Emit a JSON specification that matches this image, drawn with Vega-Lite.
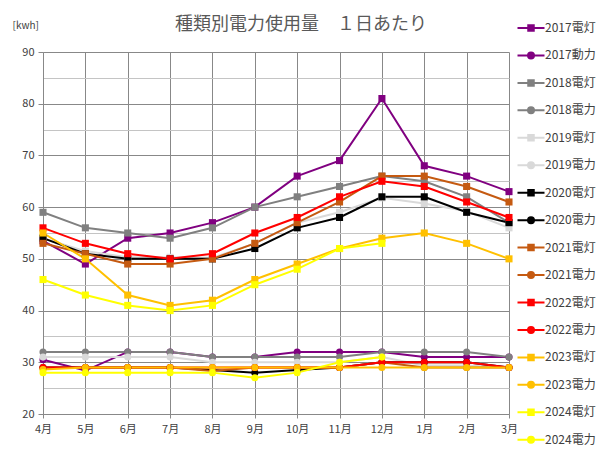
{
  "$schema": "https://vega.github.io/schema/vega-lite/v6.json",
  "width": 466,
  "height": 362,
  "autosize": {"type": "none"},
  "padding": {"left": 43, "top": 52, "right": 96, "bottom": 40},
  "background": "white",
  "config": {"view": {"stroke": null}, "font": "Noto Sans CJK JP"},
  "title": {"text": "種類別電力使用量　１日あたり", "fontSize": 18, "fontWeight": "normal", "color": "#595959", "anchor": "middle", "dx": 25, "offset": 0, "dy": 14, "font": "Noto Sans CJK JP"},
  "data": {"values": [
    {"s":"2017電灯","k":"灯","4月":53.5,"5月":49,"6月":54,"7月":55,"8月":57,"9月":60,"10月":66,"11月":69,"12月":81,"1月":68,"2月":66,"3月":63},
    {"s":"2017動力","k":"力","4月":30.5,"5月":28.4,"6月":32,"7月":32,"8月":31,"9月":31,"10月":32,"11月":32,"12月":32,"1月":31,"2月":31,"3月":31},
    {"s":"2018電灯","k":"灯","4月":59,"5月":56,"6月":55,"7月":54,"8月":56,"9月":60,"10月":62,"11月":64,"12月":66,"1月":65,"2月":62,"3月":57},
    {"s":"2018電力","k":"力","4月":32,"5月":32,"6月":32,"7月":32,"8月":31,"9月":31,"10月":31,"11月":31,"12月":32,"1月":32,"2月":32,"3月":31},
    {"s":"2019電灯","k":"灯","4月":54,"5月":51.5,"6月":50.3,"7月":50.3,"8月":50.2,"9月":53,"10月":57,"11月":59,"12月":61.8,"1月":60.7,"2月":59.2,"3月":56},
    {"s":"2019電力","k":"力","4月":31,"5月":31,"6月":31,"7月":31,"8月":30,"9月":30,"10月":30,"11月":30,"12月":31,"1月":29.4,"2月":29.4,"3月":29},
    {"s":"2020電灯","k":"灯","4月":54,"5月":51,"6月":50,"7月":50,"8月":50,"9月":52,"10月":56,"11月":58,"12月":62,"1月":62,"2月":59,"3月":57},
    {"s":"2020電力","k":"力","4月":29,"5月":29,"6月":29,"7月":29,"8月":28.5,"9月":28,"10月":28.5,"11月":29,"12月":30,"1月":30,"2月":30,"3月":29},
    {"s":"2021電灯","k":"灯","4月":53,"5月":51,"6月":49,"7月":49,"8月":50,"9月":53,"10月":57,"11月":61,"12月":66,"1月":66,"2月":64,"3月":61},
    {"s":"2021電力","k":"力","4月":29,"5月":29,"6月":29,"7月":29,"8月":28.3,"9月":29,"10月":29,"11月":29,"12月":30,"1月":29,"2月":29,"3月":29},
    {"s":"2022電灯","k":"灯","4月":56,"5月":53,"6月":51,"7月":50,"8月":51,"9月":55,"10月":58,"11月":62,"12月":65,"1月":64,"2月":61,"3月":58},
    {"s":"2022電力","k":"力","4月":29,"5月":29,"6月":29,"7月":29,"8月":29,"9月":29,"10月":29,"11月":29,"12月":30,"1月":30,"2月":30,"3月":29},
    {"s":"2023電灯","k":"灯","4月":55,"5月":50,"6月":43,"7月":41,"8月":42,"9月":46,"10月":49,"11月":52,"12月":54,"1月":55,"2月":53,"3月":50},
    {"s":"2023電力","k":"力","4月":28.6,"5月":29,"6月":29,"7月":29,"8月":29,"9月":29,"10月":29,"11月":29,"12月":29,"1月":29,"2月":29,"3月":29},
    {"s":"2024電灯","k":"灯","4月":46,"5月":43,"6月":41,"7月":40,"8月":41,"9月":45,"10月":48,"11月":52,"12月":53,"1月":null,"2月":null,"3月":null},
    {"s":"2024電力","k":"力","4月":28,"5月":28,"6月":28,"7月":28,"8月":28,"9月":27,"10月":28,"11月":30,"12月":31,"1月":null,"2月":null,"3月":null}
  ]},
  "transform": [
    {"fold": ["4月","5月","6月","7月","8月","9月","10月","11月","12月","1月","2月","3月"], "as": ["m", "v"]},
    {"filter": "datum.v != null"}
  ],
  "encoding": {
    "x": {"field": "m", "type": "ordinal",
      "sort": ["4月","5月","6月","7月","8月","9月","10月","11月","12月","1月","2月","3月"],
      "scale": {"type": "point", "padding": 0},
      "axis": {"title": null, "labelAngle": 0, "labelFontSize": 11, "labelColor": "#404040", "labelPadding": 5,
        "domainColor": "#888888", "tickColor": "#888888", "tickSize": 4, "grid": true, "gridColor": "#888888", "gridWidth": 1}},
    "y": {"field": "v", "type": "quantitative",
      "scale": {"domain": [20, 90], "nice": false, "zero": false},
      "axis": {"values": [20,25,30,35,40,45,50,55,60,65,70,75,80,85,90],
        "labelExpr": "datum.value % 10 === 0 ? datum.label : ''",
        "labelFontSize": 11, "labelColor": "#404040", "labelPadding": 4,
        "domainColor": "#888888", "tickSize": 5,
        "tickColor": {"condition": {"test": "datum.value % 10 === 0", "value": "#888888"}, "value": "rgba(0,0,0,0)"},
        "gridColor": {"condition": {"test": "datum.value % 10 === 0", "value": "#888888"}, "value": "#c4c4c4"},
        "title": "[kwh]", "titleAngle": 0, "titleX": -31, "titleY": -27, "titleAlign": "left", "titleBaseline": "middle",
        "titleFontSize": 10, "titleFontWeight": "normal", "titleColor": "#404040"}},
    "color": {"field": "s", "type": "nominal",
      "scale": {"domain": ["2017電灯","2017動力","2018電灯","2018電力","2019電灯","2019電力","2020電灯","2020電力","2021電灯","2021電力","2022電灯","2022電力","2023電灯","2023電力","2024電灯","2024電力"],
        "range": ["#800080","#800080","#808080","#808080","#D9D9D9","#D9D9D9","#000000","#000000","#C55A11","#C55A11","#FF0000","#FF0000","#FFC000","#FFC000","#FFFF00","#FFFF00"]},
      "legend": {"title": null, "orient": "none", "legendX": 482, "legendY": -30, "labelFontSize": 12, "labelColor": "#404040",
        "labelOffset": 8, "rowPadding": 13.45, "symbolSize": 100, "symbolStrokeWidth": 2,
        "encode": {"symbols": {"update": {
          "shape": {"signal": "indexof(datum.value, '灯') >= 0 ? 'M-2.7,0H2.7M-0.55,-0.55H0.55V0.55H-0.55Z' : 'M-2.7,0H2.7M0.6,0A0.6,0.6,0,1,1,-0.6,0A0.6,0.6,0,1,1,0.6,0Z'"},
          "fill": {"scale": "color", "field": "value"},
          "stroke": {"scale": "color", "field": "value"},
          "strokeWidth": {"value": 2},
          "opacity": {"value": 1}
        }}}}}
  },
  "layer": [
    {"mark": {"type": "line", "strokeWidth": 2}, "encoding": {"detail": {"field": "s"}}},
    {"mark": {"type": "point", "filled": true, "size": 50, "opacity": 1},
      "encoding": {"shape": {"field": "k", "type": "nominal", "scale": {"domain": ["灯","力"], "range": ["square","circle"]}, "legend": null}}}
  ]
}
